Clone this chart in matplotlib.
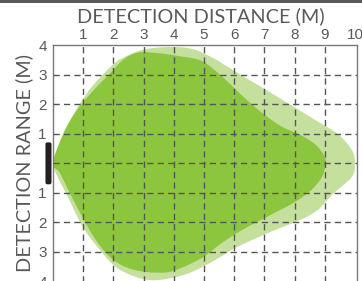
import matplotlib.pyplot as plt
import numpy as np
from matplotlib.path import Path
from matplotlib.patches import PathPatch, FancyBboxPatch, Rectangle

# axis ticks / grid
X_TICKS = [1, 2, 3, 4, 5, 6, 7, 8, 9, 10]
Y_TICKS = [-4, -3, -2, -1, 1, 2, 3, 4]
X_GRID = [1, 2, 3, 4, 5, 6, 7, 8, 9]
Y_GRID = [-3, -2, -1, 0, 1, 2, 3]

# outline of the outer (max) detection zone
OUTER_X = [0.0, 0.15, 0.5, 0.88, 1.3, 1.75, 2.2, 2.95, 3.8, 4.6, 5.3, 5.93, 6.89, 7.88, 8.68, 9.44, 9.9, 10.0,
           9.9, 9.27, 8.77, 8.18, 7.19, 6.09, 5.53, 4.87, 4.3, 3.41, 2.75, 2.09, 1.56, 0.99, 0.43, 0.12]
OUTER_Y = [0.0, 0.5, 1.3, 2.0, 2.6, 3.1, 3.5, 3.83, 3.93, 3.87, 3.56, 3.17, 2.58, 1.97, 1.46, 0.98, 0.44, 0.0,
           -0.47, -1.05, -1.59, -1.93, -2.34, -2.85, -3.19, -3.56, -3.8, -3.97, -3.86, -3.53, -2.95, -2.17, -1.02, -0.4]

# outline of the inner (typical) detection zone
INNER_X = [0.0, 0.3, 0.58, 0.95, 1.42, 1.87, 2.35, 2.85, 3.5, 4.2, 4.93, 5.6, 6.26, 6.89, 7.55, 8.2, 8.7, 8.98, 9.04,
           8.91, 8.55, 8.05, 7.45, 6.85, 6.26, 5.6, 4.97, 4.3, 3.8, 3.08, 2.42, 1.89, 1.42, 0.99, 0.56, 0.23]
INNER_Y = [0.0, 0.9, 1.46, 2.0, 2.55, 3.02, 3.52, 3.75, 3.72, 3.62, 3.46, 2.93, 2.29, 1.73, 1.25, 0.95, 0.62, 0.25, 0.0,
           -0.47, -0.92, -1.3, -1.63, -1.95, -2.27, -2.7, -3.19, -3.53, -3.7, -3.69, -3.53, -3.19, -2.61, -1.86, -1.02, -0.34]

LIGHT = "#c5df9c"
DARK = "#8cc63f"
TEXT = "#58595b"
GRID = "#555555"


def smooth_path(xs, ys):
    # closed catmull-rom outline turned into bezier segments
    pts = np.column_stack([xs, ys])
    n = len(pts)
    verts = [pts[0]]
    codes = [Path.MOVETO]
    for i in range(n):
        p0, p1, p2, p3 = pts[(i - 1) % n], pts[i], pts[(i + 1) % n], pts[(i + 2) % n]
        verts += [p1 + (p2 - p0) / 6, p2 - (p3 - p1) / 6, p2]
        codes += [Path.CURVE4] * 3
    verts.append(pts[0])
    codes.append(Path.CLOSEPOLY)
    return Path(verts, codes)


fig = plt.figure(figsize=(3.62, 2.81), dpi=100)
ax = fig.add_axes([53 / 362, 1 - 282 / 281, 304 / 362, 237 / 281])

ax.add_patch(PathPatch(smooth_path(OUTER_X, OUTER_Y), facecolor=LIGHT, edgecolor="none", zorder=1))
ax.add_patch(PathPatch(smooth_path(INNER_X, INNER_Y), facecolor=DARK, edgecolor="none", zorder=2))

for x in X_GRID:
    ax.axvline(x, color=GRID, lw=1.0, ls=(0, (4.5, 3)), zorder=3)
for y in Y_GRID:
    ax.axhline(y, color=GRID, lw=1.0, ls=(0, (4.5, 3)), zorder=3)

# sensor
ax.add_patch(FancyBboxPatch((-0.25, -0.72), 0.2, 1.42, boxstyle="round,pad=0,rounding_size=0.06",
                            facecolor="#231f20", edgecolor="none", clip_on=False, zorder=5))

ax.set_xlim(0, 10.07)
ax.set_ylim(-4.03, 4.0)
ax.xaxis.tick_top()
ax.set_xticks(X_TICKS)
ax.set_xticklabels([str(v) for v in X_TICKS])
ax.set_yticks(Y_TICKS)
ax.set_yticklabels([str(abs(v)) for v in Y_TICKS])
ax.tick_params(axis="x", length=0, pad=2, labelsize=11, labelcolor=TEXT)
ax.tick_params(axis="y", length=0, pad=4.5, labelsize=11, labelcolor=TEXT)
for lab in ax.get_xticklabels() + ax.get_yticklabels():
    lab.set_family("Liberation Sans")
for s in ax.spines.values():
    s.set_color("#7a7a7a")
    s.set_linewidth(1.0)

fig.text(201 / 362, 1 - 16 / 281, "DETECTION DISTANCE (M)", ha="center", va="center",
         fontsize=14.3, color=TEXT, family="Lato")
fig.text(24 / 362, 1 - 163 / 281, "DETECTION RANGE (M)", ha="center", va="center", rotation=90,
         fontsize=14.3, color=TEXT, family="Lato")

fig.add_artist(Rectangle((0, 1 - 3 / 281), 1, 3 / 281, transform=fig.transFigure,
                         facecolor="#5a5a5a", edgecolor="none"))

fig.savefig("out.png", dpi=100)
